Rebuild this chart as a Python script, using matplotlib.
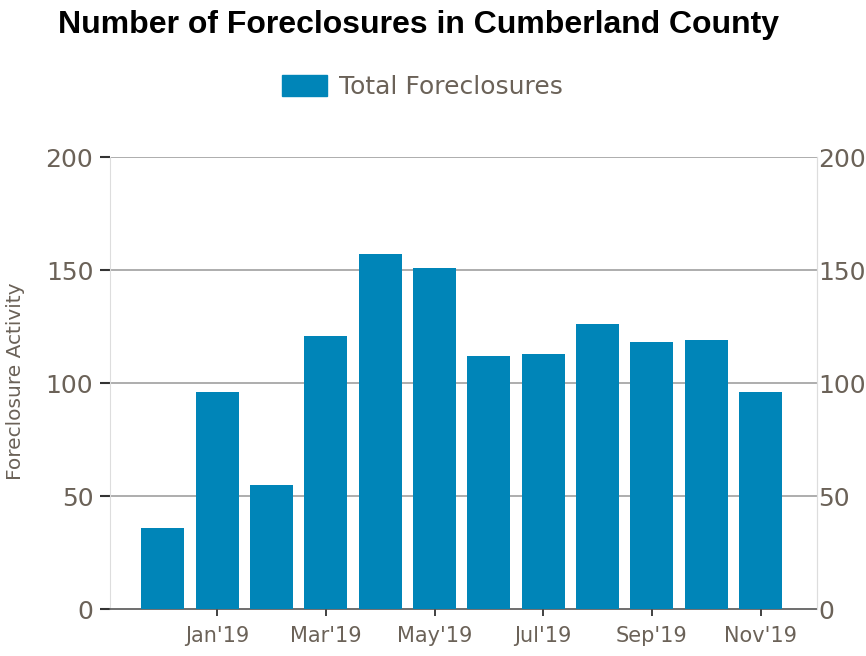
import matplotlib
matplotlib.use("Agg")
import matplotlib.pyplot as plt
from matplotlib.patches import Patch

months = ["Dec'18", "Jan'19", "Feb'19", "Mar'19", "Apr'19", "May'19",
          "Jun'19", "Jul'19", "Aug'19", "Sep'19", "Oct'19", "Nov'19"]
foreclosures = [36, 96, 55, 121, 157, 151, 112, 113, 126, 118, 119, 96]
yticks = [0, 50, 100, 150, 200]

bar_color = "#0085B8"
text_color = "#6b6258"
font = "DejaVu Sans"

fig = plt.figure(figsize=(8.66, 6.56), dpi=100)
ax = fig.add_axes([0.127, 0.0716, 0.816, 0.689])

x = list(range(len(months)))
ax.bar(x, foreclosures, width=0.79, color=bar_color, zorder=3)

ax.set_xlim(-0.97, 12.03)
ax.set_ylim(0, 200)
ax.set_yticks(yticks)
ax.set_yticklabels([str(v) for v in yticks], fontsize=18, color=text_color, family=font)
for v in yticks[1:]:
    ax.axhline(v, color="#a0a0a0", lw=1.2, zorder=1)

tick_idx = list(range(1, 12, 2))
ax.set_xticks(tick_idx)
ax.set_xticklabels([months[i] for i in tick_idx], fontsize=15, color=text_color, family=font)
ax.tick_params(axis="x", direction="out", length=5, width=1.3, color="#333333", pad=7)
ax.tick_params(axis="y", direction="out", length=7, width=1.5, color="#333333", pad=5)

ax.spines["top"].set_visible(False)
ax.spines["left"].set_color("#dddddd")
ax.spines["right"].set_color("#dddddd")
ax.spines["bottom"].set_color("#555555")
ax.spines["bottom"].set_linewidth(1.2)

ax2 = ax.twinx()
ax2.set_ylim(0, 200)
ax2.set_yticks(yticks)
ax2.set_yticklabels([str(v) for v in yticks], fontsize=18, color=text_color, family=font)
ax2.tick_params(axis="y", length=0, pad=1)
for s in ["top", "left", "bottom"]:
    ax2.spines[s].set_visible(False)
ax2.spines["right"].set_color("#dddddd")

fig.text(0.018, 1 - 381 / 656, "Foreclosure Activity", rotation=90, ha="center", va="center",
         fontsize=14.5, color=text_color, family=font)

fig.text(0.483, 1 - 33 / 656, "Number of Foreclosures in Cumberland County", ha="center",
         va="baseline", fontsize=23, fontweight="bold", family="Liberation Sans", color="black")

leg = fig.legend(handles=[Patch(color=bar_color, label="Total Foreclosures")],
                 loc="center", bbox_to_anchor=(0.488, 0.867), frameon=False,
                 prop={"family": font, "size": 18}, handlelength=1.8, handleheight=0.92,
                 handletextpad=0.48)
for t in leg.get_texts():
    t.set_color(text_color)

fig.savefig("out.png", dpi=100)
